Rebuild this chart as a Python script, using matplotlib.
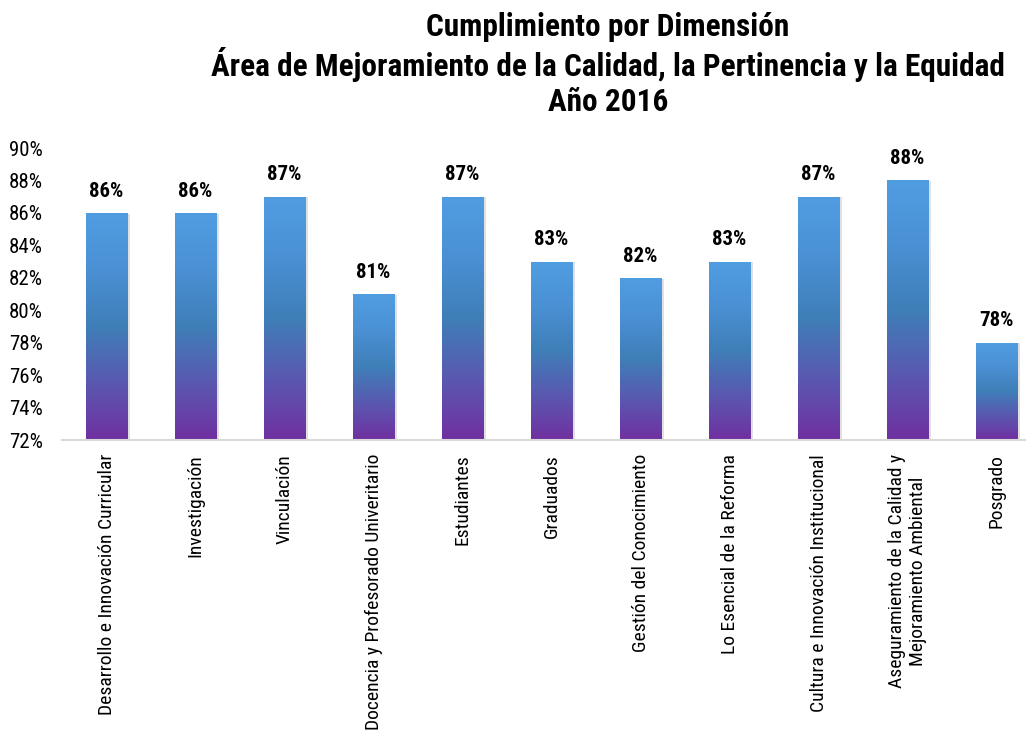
import matplotlib
matplotlib.use("Agg")
import matplotlib.pyplot as plt
import numpy as np
from matplotlib.colors import LinearSegmentedColormap
from matplotlib.patches import Rectangle

plt.rcParams['font.family'] = ['Roboto Condensed', 'DejaVu Sans']

categories = ["Desarrollo e Innovación Curricular", "Investigación", "Vinculación",
              "Docencia y Profesorado Univeritario", "Estudiantes", "Graduados",
              "Gestión del Conocimiento", "Lo Esencial de la Reforma",
              "Cultura e Innovación Institucional",
              "Aseguramiento de la Calidad y\nMejoramiento Ambiental", "Posgrado"]
values = [86, 86, 87, 81, 87, 83, 82, 83, 87, 88, 78]
yticks = [72, 74, 76, 78, 80, 82, 84, 86, 88, 90]
title = "Cumplimiento por Dimensión\nÁrea de Mejoramiento de la Calidad, la Pertinencia y la Equidad\nAño 2016"

fig = plt.figure(figsize=(10.26, 7.34), dpi=100)
ax = fig.add_axes([62/1026, 1 - 440/734, (1026 - 62)/1026, (440 - 148)/734])

cmap = LinearSegmentedColormap.from_list("g", ["#7030A0", "#5A58B0", "#3F7FB8", "#4A90D4", "#519DE2"])
grad = np.linspace(0, 1, 256).reshape(-1, 1)
w = 0.47
x = np.arange(len(categories))
for xi, v in zip(x, values):
    sh = Rectangle((xi - w/2 + 0.03, 72), w, v - 72 - 0.05, facecolor="#000000", alpha=0.12,
                   edgecolor="none", zorder=1)
    ax.add_patch(sh)
    im = ax.imshow(grad, extent=(xi - w/2, xi + w/2, 72, v), origin="lower", cmap=cmap,
                   aspect="auto", zorder=2, interpolation="bicubic")
    r = Rectangle((xi - w/2, 72), w, v - 72, facecolor="none", edgecolor="none")
    ax.add_patch(r)
    im.set_clip_path(r)
    ax.text(xi, v + 0.75, f"{v}%", ha="center", va="bottom", fontsize=15, fontweight="bold")

ax.set_xlim(-0.5, 10.33)
ax.set_ylim(72, 90)
ax.set_yticks(yticks)
ax.set_yticklabels([f"{t}%" for t in yticks], fontsize=15)
ax.set_xticks(x)
ax.set_xticklabels(categories, rotation=90, fontsize=14, va="top", ha="center",
                   multialignment="center", linespacing=1.2)
for s in ["top", "right", "left"]:
    ax.spines[s].set_visible(False)
ax.spines["bottom"].set_color("#D9D9D9")
ax.spines["bottom"].set_linewidth(1.5)
ax.tick_params(axis="y", length=0, pad=14)
ax.tick_params(axis="x", length=0, pad=10)

fig.text(608/1026, 1 - 12/734, title, ha="center", va="top", fontsize=22.5, fontweight="bold",
         linespacing=1.18)

fig.savefig("out.png", dpi=100)
